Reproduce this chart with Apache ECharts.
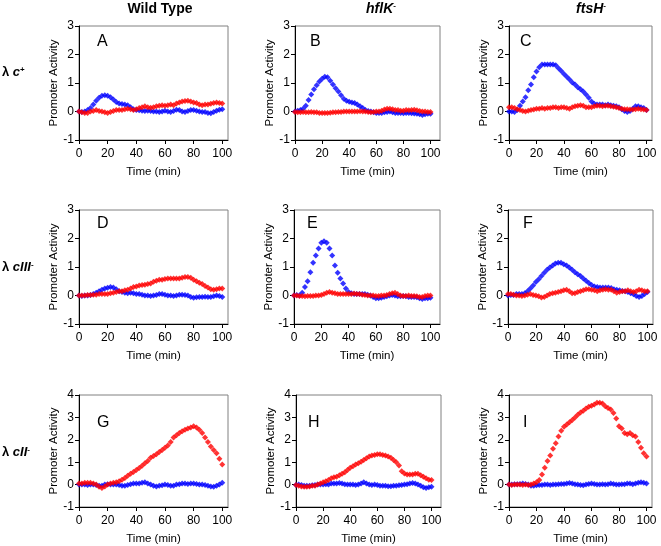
<!DOCTYPE html>
<html><head><meta charset="utf-8">
<script src="https://cdn.jsdelivr.net/npm/echarts@6/dist/echarts.min.js"></script>
<style>html,body{margin:0;padding:0;background:#fff}#c{width:661px;height:546px}</style>
</head><body><div id="c"></div>
<script>
// ---- data (time in minutes, promoter activity) ----
const time = [0,2,4,6,8,10,12,14,16,18,20,22,24,26,28,30,32,34,36,38,40,42,44,46,48,50,52,54,56,58,60,62,64,66,68,70,72,74,76,78,80,82,84,86,88,90,92,94,96,98,100];

const A_blue = [0,-0.02,0,0.05,0.12,0.25,0.38,0.48,0.55,0.57,0.55,0.5,0.42,0.33,0.28,0.26,0.25,0.22,0.15,0.08,0.05,0.04,0.03,0.02,0.03,0.02,0,0,-0.02,0,0.03,0,-0.02,0.02,0.06,0.05,0,-0.02,0.02,0.05,0.05,0.03,0,-0.02,-0.02,-0.05,-0.06,-0.02,0.03,0.06,0.08];
const A_red  = [0,-0.03,-0.05,-0.05,0,0.02,0.05,0.02,0,-0.03,-0.05,-0.02,0.02,0.05,0.05,0.05,0.08,0.1,0.08,0.05,0.08,0.12,0.15,0.18,0.15,0.13,0.15,0.18,0.2,0.22,0.2,0.22,0.25,0.22,0.28,0.32,0.35,0.37,0.38,0.35,0.32,0.3,0.25,0.22,0.25,0.25,0.27,0.3,0.32,0.3,0.28];

const B_blue = [0,0.03,0.05,0.1,0.2,0.4,0.6,0.78,0.92,1.05,1.15,1.22,1.2,1.08,0.95,0.82,0.7,0.57,0.45,0.38,0.34,0.32,0.3,0.25,0.18,0.12,0.05,0.02,0,-0.03,-0.05,-0.05,-0.05,-0.03,-0.02,0,-0.03,-0.05,-0.05,-0.05,-0.06,-0.05,-0.05,-0.06,-0.07,-0.08,-0.1,-0.12,-0.1,-0.08,-0.08];
const B_red  = [-0.02,-0.03,-0.03,-0.02,-0.03,-0.03,-0.02,-0.03,-0.03,-0.05,-0.05,-0.05,-0.05,-0.04,-0.03,-0.03,-0.02,-0.02,0,0,0,0,0,0,0.01,0,0,-0.02,-0.03,-0.02,0,0,0.03,0.07,0.1,0.1,0.08,0.05,0.05,0.03,0.03,0.05,0.04,0.05,0.06,0.04,0.02,0,0,-0.02,-0.02];

const C_blue = [0,0,-0.02,0.05,0.2,0.35,0.5,0.75,0.95,1.2,1.4,1.55,1.65,1.65,1.65,1.65,1.65,1.62,1.52,1.42,1.32,1.22,1.12,1.02,0.95,0.85,0.78,0.7,0.6,0.48,0.35,0.27,0.25,0.25,0.25,0.22,0.25,0.22,0.2,0.18,0.15,0.08,0.02,-0.02,0.02,0.1,0.18,0.18,0.15,0.12,0.05];
const C_red  = [0.15,0.15,0.12,0.08,0.05,0.02,0,0.03,0.05,0.07,0.1,0.1,0.12,0.1,0.12,0.12,0.15,0.15,0.12,0.15,0.15,0.12,0.1,0.15,0.18,0.2,0.22,0.2,0.15,0.15,0.15,0.18,0.2,0.2,0.18,0.2,0.2,0.18,0.17,0.15,0.12,0.1,0.08,0.08,0.07,0.07,0.08,0.1,0.08,0.07,0.05];

const D_blue = [0,-0.02,0,0,0.02,0.05,0.1,0.15,0.2,0.25,0.27,0.3,0.28,0.22,0.15,0.12,0.1,0.08,0.1,0.08,0.05,0.05,0.03,0,0,-0.02,0,0.02,0.05,0.05,0.03,0,0,-0.02,0,0.03,0.03,0.02,0,-0.05,-0.08,-0.06,-0.05,-0.05,-0.04,-0.05,-0.05,-0.03,0,-0.02,-0.05];
const D_red  = [0,0,0,0.02,0.02,0.03,0.03,0.05,0.05,0.05,0.05,0.08,0.1,0.12,0.15,0.15,0.18,0.2,0.25,0.3,0.32,0.35,0.37,0.38,0.4,0.42,0.48,0.52,0.55,0.55,0.58,0.6,0.6,0.6,0.6,0.6,0.62,0.65,0.65,0.62,0.55,0.5,0.45,0.4,0.33,0.28,0.22,0.2,0.22,0.25,0.25];

const E_blue = [0,0.02,0,0.1,0.3,0.5,0.82,1.15,1.4,1.65,1.85,1.9,1.85,1.65,1.4,1.05,0.8,0.6,0.42,0.25,0.12,0.08,0.05,0.05,0.05,0.05,0.05,0.03,0,-0.05,-0.1,-0.1,-0.08,-0.05,-0.03,0,0.02,0,-0.03,-0.03,-0.02,-0.03,-0.05,-0.05,-0.05,-0.06,-0.1,-0.12,-0.1,-0.1,-0.08];
const E_red  = [0,0,-0.02,-0.02,-0.03,-0.02,-0.02,-0.02,0,0,0.02,0.05,0.1,0.12,0.1,0.08,0.05,0.05,0.05,0.05,0.05,0.05,0.07,0.05,0.05,0.03,0.02,0,0,0,-0.02,-0.02,0,0,0.02,0.05,0.08,0.1,0.05,0,-0.02,-0.02,0,-0.02,-0.02,-0.03,-0.05,-0.05,-0.02,0,0];

const F_blue = [0,0.02,0.02,0.05,0.05,0.05,0.08,0.15,0.25,0.35,0.47,0.57,0.68,0.8,0.9,0.98,1.05,1.12,1.15,1.15,1.1,1.05,0.98,0.9,0.82,0.75,0.68,0.6,0.52,0.44,0.37,0.32,0.3,0.28,0.28,0.28,0.28,0.26,0.22,0.2,0.18,0.16,0.15,0.12,0.08,0.04,-0.02,-0.05,-0.02,0.05,0.12];
const F_red  = [0.05,0.05,0.03,0,0,-0.02,0,0.03,0.05,0.02,0,-0.03,-0.07,-0.05,0,0.05,0.08,0.1,0.12,0.15,0.18,0.2,0.15,0.08,0.08,0.12,0.15,0.18,0.22,0.22,0.2,0.18,0.15,0.18,0.2,0.22,0.2,0.2,0.15,0.1,0.12,0.15,0.15,0.18,0.15,0.12,0.15,0.2,0.18,0.15,0.15];

const G_blue = [0,0,0,-0.02,0,0,-0.02,-0.05,-0.05,0,0.02,0,0,0,-0.02,-0.05,-0.05,-0.02,0.02,0.05,0.05,0.05,0.08,0.1,0.05,0,-0.05,-0.08,-0.05,-0.03,0,-0.02,-0.05,-0.05,0,0.02,0.05,0.05,0.03,0.05,0.05,0.03,0,0,-0.02,-0.05,-0.08,-0.1,-0.05,0,0.08];
const G_red  = [0.05,0.05,0.08,0.08,0.08,0.05,0,-0.1,-0.15,-0.08,0,0.05,0.08,0.1,0.15,0.22,0.3,0.4,0.48,0.56,0.65,0.74,0.84,0.95,1.05,1.2,1.28,1.36,1.45,1.55,1.65,1.75,1.9,2.1,2.2,2.3,2.38,2.45,2.5,2.55,2.6,2.55,2.45,2.3,2.1,1.9,1.7,1.55,1.4,1.15,0.9];

const H_blue = [-0.02,0,-0.02,-0.05,-0.05,-0.05,-0.03,-0.02,0,0,0,0.02,0,0.05,0.05,0.05,0.07,0.05,0.02,0,0,0,-0.02,0,0.05,0.1,0.05,0,-0.02,0,-0.02,-0.05,-0.05,-0.05,-0.07,-0.07,-0.05,-0.05,-0.03,-0.02,0,0.02,0.05,0.07,0.05,0,-0.05,-0.12,-0.15,-0.12,-0.1];
const H_red  = [-0.02,-0.05,-0.08,-0.1,-0.1,-0.08,-0.05,-0.05,0,0.05,0.1,0.15,0.2,0.28,0.33,0.35,0.42,0.48,0.55,0.65,0.75,0.82,0.9,0.95,1.02,1.1,1.18,1.25,1.3,1.32,1.35,1.35,1.32,1.3,1.25,1.2,1.1,1,0.85,0.6,0.5,0.45,0.45,0.45,0.48,0.48,0.42,0.35,0.28,0.22,0.2];

const I_blue = [0,0,0.02,0.02,0.03,0.05,0.03,0,-0.05,-0.05,-0.03,-0.02,-0.02,0,0,-0.02,0,0,0.02,0.03,0.03,0.05,0.07,0.05,0.02,0,-0.02,-0.03,0,0.03,0.05,0.03,0,0,0.02,0,0.02,0.05,0.03,0,0,0.02,0.02,0.05,0.05,0.02,0.05,0.08,0.1,0.08,0.05];
const I_red  = [0,-0.02,0,0,0,-0.02,0,-0.02,0,0.05,0.1,0.2,0.45,0.75,1.05,1.3,1.6,1.85,2.15,2.4,2.58,2.68,2.78,2.88,3,3.12,3.22,3.3,3.4,3.48,3.52,3.58,3.65,3.65,3.62,3.5,3.42,3.35,3.2,2.95,2.6,2.5,2.3,2.25,2.3,2.2,2.15,1.9,1.65,1.4,1.25];

const xTicks = [0,20,40,60,80,100];
const yTicksTop = [-1,0,1,2,3];
const yTicksBottom = [-1,0,1,2,3,4];
const panelLetters = ['A','B','C','D','E','F','G','H','I'];
const xAxisName = 'Time (min)';
const yAxisName = 'Promoter Activity';

// ---- layout ----
const rects = [[79,26,149,114],[295,26,145,114],[509,26,143,114],
               [79,210,149,114],[294,210,146,114],[508,210,145,114],
               [79,395,149,114],[296,395,145,114],[509,395,143,114]];
const xMaxByCol = [104,107,104];
const letterOff = [[18,8],[15,8],[11,8],[18,6],[13,6],[15,6],[18,20],[12,20],[14,20]];
const blues = [A_blue,B_blue,C_blue,D_blue,E_blue,F_blue,G_blue,H_blue,I_blue];
const reds  = [A_red,B_red,C_red,D_red,E_red,F_red,G_red,H_red,I_red];
const FONT = '"Liberation Sans", Arial, sans-serif';

const grid=[], xAxis=[], yAxis=[], series=[], graphic=[];
for (let i=0;i<9;i++){
  const r = rects[i], row = Math.floor(i/3), col = i%3;
  const yt = row===2 ? yTicksBottom : yTicksTop;
  grid.push({left:r[0], top:r[1], width:r[2], height:r[3], show:true, borderColor:'#808080', borderWidth:1, containLabel:false});
  xAxis.push({type:'value', gridIndex:i, min:0, max:xMaxByCol[col], interval:20,
    axisLine:{show:true,onZero:false,lineStyle:{color:'#000',width:1}},
    axisTick:{show:true,inside:false,length:4,customValues:xTicks,lineStyle:{color:'#000'}},
    axisLabel:{customValues:xTicks,fontSize:12,color:'#000',margin:8,fontFamily:FONT},
    splitLine:{show:false},
    name:xAxisName, nameLocation:'middle', nameGap:26,
    nameTextStyle:{fontSize:11.5,color:'#000',fontFamily:FONT}});
  yAxis.push({type:'value', gridIndex:i, min:yt[0], max:yt[yt.length-1], interval:1,
    axisLine:{show:true,onZero:false,lineStyle:{color:'#000',width:1}},
    axisTick:{show:true,inside:false,length:4,lineStyle:{color:'#000'}},
    axisLabel:{fontSize:12,color:'#000',margin:5,fontFamily:FONT},
    splitLine:{show:false},
    name:yAxisName, nameLocation:'middle', nameGap:15,
    nameTextStyle:{fontSize:11.5,color:'#000',fontFamily:FONT}});
  series.push({type:'scatter', xAxisIndex:i, yAxisIndex:i, symbol:'diamond', symbolSize:6,
    itemStyle:{color:'#0000FF'}, data:time.map((t,k)=>[t,blues[i][k]]), silent:true});
  series.push({type:'scatter', xAxisIndex:i, yAxisIndex:i, symbol:'diamond', symbolSize:6,
    itemStyle:{color:'#FF0000'}, data:time.map((t,k)=>[t,reds[i][k]]), silent:true});
  graphic.push({type:'text', x:r[0]+letterOff[i][0], y:r[1]+letterOff[i][1],
    style:{text:panelLetters[i], font:'16px '+FONT, fill:'#000', align:'left', verticalAlign:'top'}});
}

const richBase = {
  n:{fontSize:14,fontWeight:'bold',fontFamily:FONT,fill:'#000'},
  i:{fontSize:14,fontWeight:'bold',fontStyle:'italic',fontFamily:FONT,fill:'#000'},
  s:{fontSize:8,fontWeight:'bold',fontFamily:FONT,fill:'#000',verticalAlign:'top'}
};
const richRow = {
  n:{fontSize:13,fontWeight:'bold',fontFamily:FONT,fill:'#000'},
  i:{fontSize:13,fontWeight:'bold',fontStyle:'italic',fontFamily:FONT,fill:'#000'},
  s:{fontSize:8,fontWeight:'bold',fontFamily:FONT,fill:'#000',verticalAlign:'top'}
};
const colTitles = [
  {x:160, text:'{n|Wild Type}'},
  {x:381, text:'{i|hflK}{s|-}'},
  {x:591, text:'{i|ftsH}{s|-}'}
];
colTitles.forEach(c=>graphic.push({type:'text', x:c.x, y:9,
  style:{text:c.text, rich:richBase, align:'center', verticalAlign:'middle'}}));
const rowLabels = [
  {y:72, text:'{n|λ }{i|c}{s|+}'},
  {y:267, text:'{n|λ }{i|cIII}{s|-}'},
  {y:452, text:'{n|λ }{i|cII}{s|-}'}
];
rowLabels.forEach(c=>graphic.push({type:'text', x:2, y:c.y,
  style:{text:c.text, rich:richRow, align:'left', verticalAlign:'middle'}}));

const chart = echarts.init(document.getElementById('c'), null, {renderer:'canvas'});
chart.setOption({animation:false, backgroundColor:'#fff', grid, xAxis, yAxis, series, graphic});
</script></body></html>
